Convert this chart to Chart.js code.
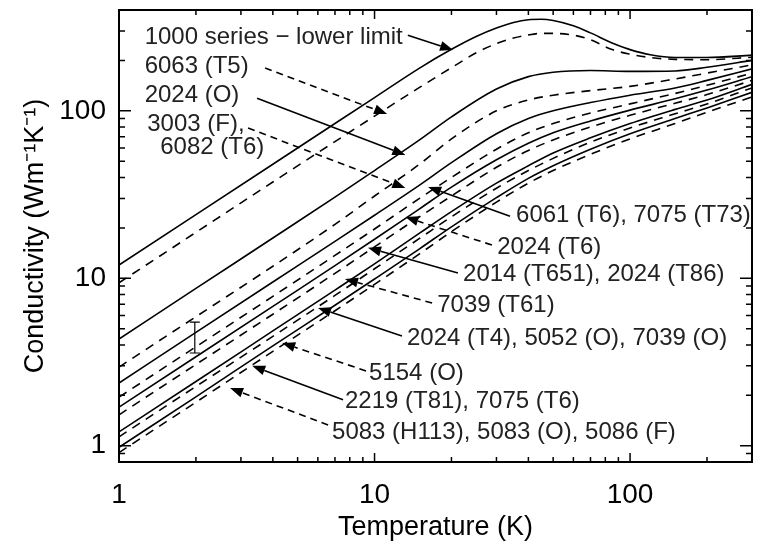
<!DOCTYPE html>
<html>
<head>
<meta charset="utf-8">
<script src="https://cdn.jsdelivr.net/npm/chart.js@4/dist/chart.umd.min.js"></script>
<style>
  body { margin: 0; background: #fff; }
</style>
</head>
<body>
<canvas id="myChart" width="757" height="546"></canvas>
<script>
// temperatures (K) at which the curves are read
var tPeak  = [1, 2, 4, 7, 10, 15, 20, 25, 30, 35, 40, 45, 50, 60, 70, 85, 100, 120, 150, 200, 300];
var tAlloy = [1, 2, 4, 7, 10, 15, 20, 30, 40, 50, 70, 100, 150, 200, 300];

// conductivity (W m-1 K-1)
var k1000  = [12.0, 24, 48, 84, 120, 180, 233, 278, 312, 337, 350, 352, 346, 322, 292, 254, 232, 216, 208, 208, 215];
var k6063  = [9.4, 18.8, 37.6, 65.5, 93, 138, 181, 222, 252, 272, 284, 290, 290, 283, 266, 232, 218, 208, 203, 202, 209];
var k2024O = [4.34, 8.7, 17.4, 30.5, 44, 67, 92, 135, 160, 170, 174, 172, 173, 182, 200];
var k3003  = [2.95, 5.9, 11.8, 21, 31, 48, 68, 100, 116, 124, 132, 140, 155, 168, 188];
var k6061  = [2.37, 4.75, 9.5, 16.6, 23.8, 36, 49, 73, 90, 100, 112, 124, 137, 152, 178];
var k2024T6 = [1.95, 3.9, 7.8, 13.7, 19.7, 30, 40, 59, 74, 84, 97, 110, 127, 142, 168];
var k2014  = [1.70, 3.4, 6.8, 11.9, 17.1, 26, 35, 51, 64, 74, 87, 101, 118, 133, 160];
var k7039T61 = [1.53, 3.06, 6.1, 10.7, 15.4, 23.3, 31, 46, 58, 67, 80, 94, 111, 125, 152];
var k2024T4 = [1.21, 2.42, 4.85, 8.5, 12.2, 18.6, 25, 37, 47, 56, 69, 84, 102, 116, 144];
var k5154  = [1.13, 2.26, 4.5, 7.9, 11.4, 17.3, 23.3, 34.5, 44, 52, 65, 79, 96, 110, 137];
var k2219  = [0.98, 1.96, 3.95, 6.9, 9.9, 15, 20.3, 30.3, 39.5, 47, 59, 73, 90, 104, 129];
var k5083  = [0.91, 1.82, 3.66, 6.4, 9.2, 14, 19, 28.5, 37, 44, 55, 68, 84, 98, 121];

// axis ticks
var xMajor = [1, 10, 100];
var xMinor = [2, 3, 4, 5, 6, 7, 8, 9, 20, 30, 40, 50, 60, 70, 80, 90, 200];
var yMajor = [1, 10, 100];
var yMinor = [0.9, 2, 3, 4, 5, 6, 7, 8, 9, 20, 30, 40, 50, 60, 70, 80, 90, 200, 300];

// annotation labels: text, T, k (left end of the text)
var labelText = ['1000 series \u2212 lower limit', '6063 (T5)', '2024 (O)', '3003 (F),', '6082 (T6)',
  '6061 (T6), 7075 (T73)', '2024 (T6)', '2014 (T651), 2024 (T86)', '7039 (T61)',
  '2024 (T4), 5052 (O), 7039 (O)', '5154 (O)', '2219 (T81), 7075 (T6)', '5083 (H113), 5083 (O), 5086 (F)'];
var labelT = [1.26, 1.26, 1.26, 1.29, 1.45, 35.8, 30.2, 22.2, 17.6, 13.4, 9.52, 7.66, 6.82];
var labelK = [276, 183, 123, 83.4, 60.8, 23.9, 15.4, 10.5, 6.93, 4.40, 2.72, 1.83, 1.21];

// arrows: tail (T,k) -> head (T,k), dashed or not
var arrowFromT = [13.5, 3.73, 3.47, 3.20, 33.9, 28.8, 21.2, 16.8, 12.8, 9.26, 7.53, 6.58];
var arrowFromK = [283, 180, 119, 78.9, 23.5, 15.8, 10.75, 7.12, 4.52, 2.80, 1.88, 1.33];
var arrowToT   = [20.3, 11.2, 13.2, 13.2, 16.2, 13.2, 9.43, 7.66, 6.01, 4.35, 3.32, 2.72];
var arrowToK   = [231, 95.7, 54.5, 34.6, 35.1, 23.2, 15.2, 9.9, 6.65, 4.11, 3.00, 2.21];
var arrowDash  = [false, true, false, true, false, true, false, true, false, true, false, true];

// error bar
var errT = 1.98, errLow = 3.58, errHigh = 5.48;

var FONT = '"Liberation Sans", Arial, Helvetica, sans-serif';

function pts(ts, ks){
  return ts.map(function(t, i){ return {x: t, y: ks[i]}; });
}

function serie(name, ts, ks, dashed){
  return {
    label: name,
    data: pts(ts, ks),
    borderColor: '#000',
    borderWidth: 1.6,
    borderDash: dashed ? [9, 7] : [],
    pointRadius: 0,
    fill: false,
    cubicInterpolationMode: 'monotone'
  };
}

function arrow(ctx, x1, y1, x2, y2, dashed){
  ctx.save();
  ctx.lineWidth = 1.6;
  ctx.setLineDash(dashed ? [7, 5] : []);
  var ang = Math.atan2(y2 - y1, x2 - x1);
  var hl = 13, hw = 5;
  var bx = x2 - hl * Math.cos(ang), by = y2 - hl * Math.sin(ang);
  ctx.beginPath();
  ctx.moveTo(x1, y1);
  ctx.lineTo(bx, by);
  ctx.stroke();
  ctx.setLineDash([]);
  ctx.beginPath();
  ctx.moveTo(x2, y2);
  ctx.lineTo(bx + hw * Math.sin(ang), by - hw * Math.cos(ang));
  ctx.lineTo(bx - hw * Math.sin(ang), by + hw * Math.cos(ang));
  ctx.closePath();
  ctx.fill();
  ctx.restore();
}

var decorations = {
  id: 'decorations',
  afterDatasetsDraw: function(chart){
    var ctx = chart.ctx, a = chart.chartArea;
    var xs = chart.scales.x, ys = chart.scales.y;
    ctx.save();
    ctx.strokeStyle = '#000';
    ctx.fillStyle = '#000';
    ctx.lineWidth = 2;
    ctx.strokeRect(a.left, a.top, a.right - a.left, a.bottom - a.top);

    // inward ticks on all four sides
    ctx.lineWidth = 1.5;
    ctx.beginPath();
    function xt(v, len){
      var px = xs.getPixelForValue(v);
      ctx.moveTo(px, a.bottom); ctx.lineTo(px, a.bottom - len);
      ctx.moveTo(px, a.top); ctx.lineTo(px, a.top + len);
    }
    function yt(v, len){
      var py = ys.getPixelForValue(v);
      ctx.moveTo(a.left, py); ctx.lineTo(a.left + len, py);
      ctx.moveTo(a.right, py); ctx.lineTo(a.right - len, py);
    }
    xMajor.forEach(function(v){ xt(v, 9); });
    xMinor.forEach(function(v){ xt(v, 5); });
    yMajor.forEach(function(v){ yt(v, 12); });
    yMinor.forEach(function(v){ yt(v, 6); });
    ctx.stroke();

    // error bar
    var ex = xs.getPixelForValue(errT);
    var e1 = ys.getPixelForValue(errLow), e2 = ys.getPixelForValue(errHigh);
    ctx.lineWidth = 1.2;
    ctx.beginPath();
    ctx.moveTo(ex, e1); ctx.lineTo(ex, e2);
    ctx.moveTo(ex - 5, e1); ctx.lineTo(ex + 5, e1);
    ctx.moveTo(ex - 5, e2); ctx.lineTo(ex + 5, e2);
    ctx.stroke();

    // arrows
    for (var i = 0; i < arrowFromT.length; i++){
      arrow(ctx,
        xs.getPixelForValue(arrowFromT[i]), ys.getPixelForValue(arrowFromK[i]),
        xs.getPixelForValue(arrowToT[i]), ys.getPixelForValue(arrowToK[i]),
        arrowDash[i]);
    }

    // labels
    ctx.fillStyle = '#222';
    ctx.font = '24px ' + FONT;
    ctx.textAlign = 'left';
    ctx.textBaseline = 'middle';
    for (var j = 0; j < labelText.length; j++){
      ctx.fillText(labelText[j], xs.getPixelForValue(labelT[j]), ys.getPixelForValue(labelK[j]));
    }
    ctx.restore();
  }
};

var ctx = document.getElementById('myChart');
var myChart = new Chart(ctx, {
  type: 'line',
  data: {
    datasets: [
      serie('1000 series - lower limit', tPeak, k1000, false),
      serie('6063 (T5)', tPeak, k6063, true),
      serie('2024 (O)', tAlloy, k2024O, false),
      serie('3003 (F), 6082 (T6)', tAlloy, k3003, true),
      serie('6061 (T6), 7075 (T73)', tAlloy, k6061, false),
      serie('2024 (T6)', tAlloy, k2024T6, true),
      serie('2014 (T651), 2024 (T86)', tAlloy, k2014, false),
      serie('7039 (T61)', tAlloy, k7039T61, true),
      serie('2024 (T4), 5052 (O), 7039 (O)', tAlloy, k2024T4, false),
      serie('5154 (O)', tAlloy, k5154, true),
      serie('2219 (T81), 7075 (T6)', tAlloy, k2219, false),
      serie('5083 (H113), 5083 (O), 5086 (F)', tAlloy, k5083, true)
    ]
  },
  options: {
    responsive: false,
    animation: false,
    devicePixelRatio: 1,
    layout: { padding: { left: 0, top: 10, right: 5, bottom: 0 } },
    plugins: {
      legend: { display: false },
      tooltip: { enabled: false }
    },
    scales: {
      x: {
        type: 'logarithmic',
        min: 1,
        max: 300,
        grid: { display: false, drawTicks: false },
        border: { display: false },
        ticks: {
          color: '#000',
          font: { family: FONT, size: 28 },
          padding: 16,
          maxRotation: 0,
          autoSkip: false,
          callback: function(v){ return String(v); }
        },
        afterBuildTicks: function(s){ s.ticks = xMajor.map(function(v){ return {value: v}; }); },
        afterFit: function(s){ s.height = 84; s.paddingLeft = 0; s.paddingRight = 0; },
        title: {
          display: true,
          text: 'Temperature (K)',
          color: '#000',
          font: { family: FONT, size: 27 },
          padding: { top: 0, bottom: 2 }
        }
      },
      y: {
        type: 'logarithmic',
        min: 0.8,
        max: 400,
        grid: { display: false, drawTicks: false },
        border: { display: false },
        ticks: {
          color: '#000',
          font: { family: FONT, size: 28 },
          padding: 13,
          autoSkip: false,
          callback: function(v){ return String(v); }
        },
        afterBuildTicks: function(s){ s.ticks = yMajor.map(function(v){ return {value: v}; }); },
        afterFit: function(s){ s.width = 119; s.paddingTop = 0; s.paddingBottom = 0; },
        title: {
          display: true,
          text: 'Conductivity (Wm\u207B\u00B9K\u207B\u00B9)',
          color: '#000',
          font: { family: FONT, size: 27 },
          padding: { top: 19, bottom: 0 }
        }
      }
    }
  },
  plugins: [decorations]
});
</script>
</body>
</html>
